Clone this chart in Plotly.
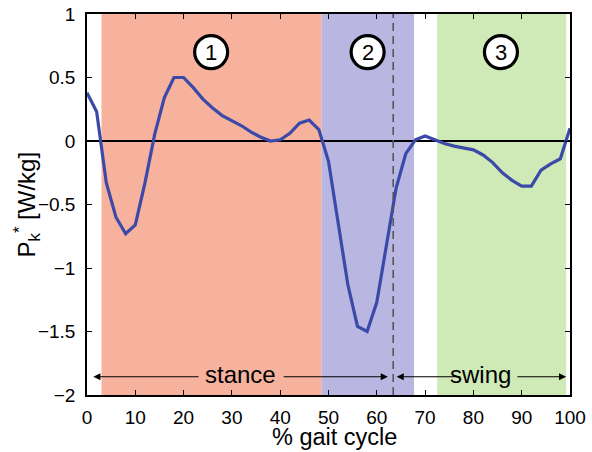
import plotly.graph_objects as go

# ---- data ----
gait_pct = [0, 2, 4, 6, 8, 10, 12, 14, 16, 18, 20, 22, 24, 26, 28, 30, 32, 34, 36, 38, 40,
            42, 44, 46, 48, 50, 52, 54, 56, 58, 60, 62, 64, 66, 68, 70, 72, 74, 76, 78, 80,
            82, 84, 86, 88, 90, 92, 94, 96, 98, 100]
knee_power = [0.38, 0.23, -0.33, -0.60, -0.73, -0.66, -0.33, 0.05, 0.34, 0.50, 0.50,
              0.42, 0.33, 0.26, 0.20, 0.16, 0.12, 0.07, 0.03, 0.00, 0.01,
              0.06, 0.14, 0.165, 0.09, -0.16, -0.65, -1.13, -1.46, -1.50, -1.27,
              -0.82, -0.37, -0.10, 0.01, 0.04, 0.01, -0.02, -0.04, -0.055, -0.07,
              -0.11, -0.17, -0.25, -0.31, -0.355, -0.355, -0.23, -0.18, -0.14, 0.10]

phase_starts = [3, 48.6, 72.5]
phase_ends = [48.6, 67.7, 99.2]
phase_colors = ["#F7B29E", "#B9B6E1", "#CFEAB7"]
phase_labels = ["1", "2", "3"]
phase_label_x = [25.7, 58.1, 85.7]
phase_label_y = 0.70

toe_off = 63.4
x_ticks = [0, 10, 20, 30, 40, 50, 60, 70, 80, 90, 100]
y_ticks = [-2, -1.5, -1, -0.5, 0, 0.5, 1]
y_ticklabels = ["\u22122", "\u22121.5", "\u22121", "\u22120.5", "0", "0.5", "1"]

x_title = "% gait cycle"
y_title = "P<sub>k</sub><sup>*</sup> [W/kg]"

FONT = "Liberation Sans, Arial, Helvetica, sans-serif"

fig = go.Figure()
fig.add_trace(go.Scatter(x=gait_pct, y=knee_power, mode="lines",
                         line=dict(color="#3B49A8", width=3.2), showlegend=False,
                         hoverinfo="skip"))

shapes = []
for s, e, c in zip(phase_starts, phase_ends, phase_colors):
    shapes.append(dict(type="rect", xref="x", yref="y", x0=s, x1=e, y0=-2, y1=1,
                       fillcolor=c, line=dict(width=0), layer="below"))
shapes.append(dict(type="line", xref="x", yref="y", x0=0, x1=100, y0=0, y1=0,
                   line=dict(color="black", width=2), layer="below"))
shapes.append(dict(type="line", xref="x", yref="y", x0=toe_off, x1=toe_off, y0=-2, y1=1,
                   line=dict(color="#555555", width=1.6, dash="8px,5px"), layer="above"))
for lx in phase_label_x:
    shapes.append(dict(type="circle", xref="x", yref="y", xsizemode="pixel", ysizemode="pixel",
                       xanchor=lx, yanchor=phase_label_y, x0=-16.5, x1=16.5, y0=-16.5, y1=16.5,
                       fillcolor="white", line=dict(color="black", width=3.2), layer="above"))

annotations = []
for lx, lab in zip(phase_label_x, phase_labels):
    annotations.append(dict(x=lx, y=phase_label_y, xref="x", yref="y", text=lab,
                            showarrow=False, font=dict(size=22, color="black", family=FONT)))

arrow_y = -1.856
annotations.append(dict(x=31.8, y=arrow_y, text="stance", showarrow=False,
                        font=dict(size=24, color="black", family=FONT), yshift=2))
annotations.append(dict(x=81.5, y=arrow_y, text="swing", showarrow=False,
                        font=dict(size=24, color="black", family=FONT), yshift=2))
# arrow segments (head at x, tail at ax)
segments = [(1.3, 23.4), (62.3, 40.4), (64.1, 77.6), (99.2, 88.8)]
for head, tail in segments:
    annotations.append(dict(x=head, y=arrow_y, ax=tail, ay=arrow_y, xref="x", yref="y",
                            axref="x", ayref="y", text="", showarrow=True,
                            arrowhead=2, arrowsize=1.3, arrowwidth=1.1, arrowcolor="black"))

# axis titles
annotations.append(dict(x=0.5, y=0, xref="paper", yref="paper", text=x_title,
                        showarrow=False, xanchor="center", yanchor="middle", yshift=-42,
                        xshift=6, font=dict(size=23.5, color="black", family=FONT)))
annotations.append(dict(x=0, y=0.5, xref="paper", yref="paper", text=y_title,
                        showarrow=False, xanchor="center", yanchor="middle", xshift=-61,
                        textangle=-90, font=dict(size=24, color="black", family=FONT)))

fig.update_layout(
    width=592, height=452,
    margin=dict(l=87, r=22, t=14, b=57, autoexpand=False),
    paper_bgcolor="white", plot_bgcolor="white",
    font=dict(family=FONT, color="black", size=19),
    shapes=shapes, annotations=annotations,
    xaxis=dict(range=[0, 100], tickvals=x_ticks, ticks="inside", ticklen=5, tickwidth=1.2,
               tickcolor="black", showline=True, linecolor="black", linewidth=1.5,
               mirror="ticks", showgrid=False, zeroline=False, automargin=False,
               tickfont=dict(size=19), ticklabelstandoff=4),
    yaxis=dict(range=[-2, 1], tickvals=y_ticks, ticktext=y_ticklabels, ticks="inside",
               ticklen=5, tickwidth=1.2, tickcolor="black", showline=True, linecolor="black",
               linewidth=1.5, mirror="ticks", showgrid=False, zeroline=False, automargin=False,
               tickfont=dict(size=19), ticklabelstandoff=6),
)

fig.write_html("out.html", config={"displayModeBar": False},
               post_script="document.body.style.margin='0';document.body.style.overflow='hidden';")
